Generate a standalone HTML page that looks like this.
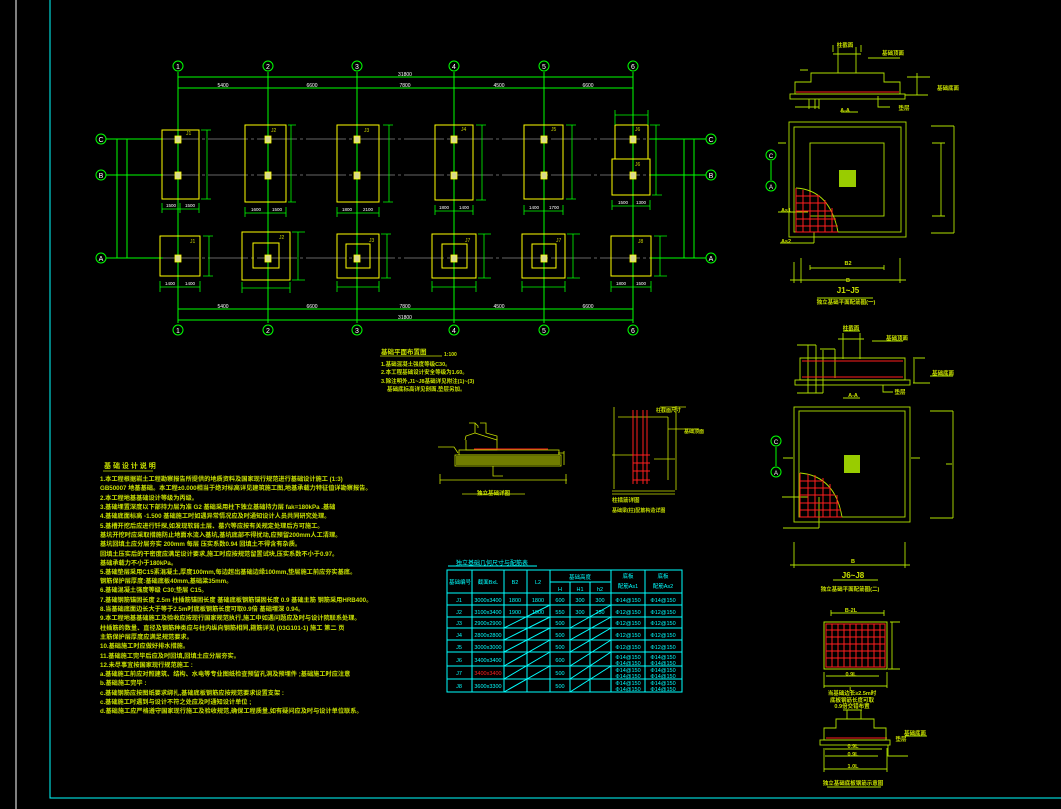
<!DOCTYPE html>
<html><head><meta charset="utf-8"><style>
html,body{margin:0;padding:0;background:#000;width:1061px;height:809px;overflow:hidden}
svg{display:block}
text{font-family:"Liberation Sans","Noto Sans CJK SC",sans-serif}
</style></head><body>
<svg width="1061" height="809" viewBox="0 0 1061 809" xmlns="http://www.w3.org/2000/svg">
<rect width="1061" height="809" fill="#000"/>
<line x1="16" y1="0" x2="16" y2="809" stroke="#fff" stroke-width="1"/>
<polyline points="50,0 50,798 1061,798" fill="none" stroke="#00ffff" stroke-width="1"/>

<g stroke="#888" stroke-width="0.8">
<line x1="110" y1="139" x2="703" y2="139" stroke-dasharray="40,3,3,3"/>
<line x1="110" y1="175" x2="703" y2="175" stroke-dasharray="40,3,3,3"/>
<line x1="110" y1="258" x2="703" y2="258" stroke-dasharray="40,3,3,3"/>
</g>
<g stroke="#00ff00" stroke-width="1" fill="none">
<line x1="178" y1="72" x2="178" y2="323"/><line x1="268" y1="72" x2="268" y2="323"/>
<line x1="357" y1="72" x2="357" y2="323"/><line x1="454" y1="72" x2="454" y2="323"/>
<line x1="544" y1="72" x2="544" y2="323"/><line x1="633" y1="72" x2="633" y2="323"/>
<line x1="178" y1="77" x2="633" y2="77"/><line x1="178" y1="88" x2="633" y2="88"/>
<line x1="178" y1="309" x2="633" y2="309"/><line x1="178" y1="320" x2="633" y2="320"/>
<line x1="106" y1="139" x2="163" y2="139"/><line x1="106" y1="175" x2="163" y2="175"/><line x1="106" y1="258" x2="163" y2="258"/>
<line x1="650" y1="139" x2="706" y2="139"/><line x1="650" y1="175" x2="706" y2="175"/><line x1="650" y1="258" x2="706" y2="258"/>
<line x1="117" y1="139" x2="117" y2="258"/><line x1="127" y1="139" x2="127" y2="258"/>
<line x1="684" y1="139" x2="684" y2="258"/><line x1="694" y1="139" x2="694" y2="258"/>
<circle cx="178" cy="66" r="5"/><circle cx="268" cy="66" r="5"/><circle cx="357" cy="66" r="5"/><circle cx="454" cy="66" r="5"/><circle cx="544" cy="66" r="5"/><circle cx="633" cy="66" r="5"/>
<circle cx="178" cy="330" r="5"/><circle cx="268" cy="330" r="5"/><circle cx="357" cy="330" r="5"/><circle cx="454" cy="330" r="5"/><circle cx="544" cy="330" r="5"/><circle cx="633" cy="330" r="5"/>
<circle cx="101" cy="139" r="5"/><circle cx="101" cy="175" r="5"/><circle cx="101" cy="258" r="5"/>
<circle cx="711" cy="139" r="5"/><circle cx="711" cy="175" r="5"/><circle cx="711" cy="258" r="5"/>
</g>
<g fill="#fff" font-size="7" text-anchor="middle">
<text x="178" y="69">1</text><text x="268" y="69">2</text><text x="357" y="69">3</text><text x="454" y="69">4</text><text x="544" y="69">5</text><text x="633" y="69">6</text>
<text x="178" y="333">1</text><text x="268" y="333">2</text><text x="357" y="333">3</text><text x="454" y="333">4</text><text x="544" y="333">5</text><text x="633" y="333">6</text>
<text x="101" y="142">C</text><text x="101" y="178">B</text><text x="101" y="261">A</text>
<text x="711" y="142">C</text><text x="711" y="178">B</text><text x="711" y="261">A</text>
</g>
<g fill="#fff" font-size="5" text-anchor="middle">
<text x="405" y="76">31800</text><text x="223" y="87">5400</text><text x="312" y="87">6600</text><text x="405" y="87">7800</text><text x="499" y="87">4500</text><text x="588" y="87">6600</text>
<text x="405" y="319">31800</text><text x="223" y="308">5400</text><text x="312" y="308">6600</text><text x="405" y="308">7800</text><text x="499" y="308">4500</text><text x="588" y="308">6600</text>
</g>

<g stroke="#ffff00" stroke-width="1" fill="none">
<rect x="162" y="130" width="37" height="69"/><rect x="245" y="125" width="41" height="77"/>
<rect x="337" y="125" width="42" height="77"/><rect x="435" y="125" width="38" height="75"/>
<rect x="524" y="125" width="39" height="74"/><rect x="615" y="125" width="33" height="34"/>
<rect x="612" y="159" width="38" height="36"/>
<rect x="160" y="236" width="40" height="40"/>
<rect x="242" y="232" width="48" height="48"/><rect x="253" y="243" width="26" height="25"/>
<rect x="337" y="234" width="42" height="44"/><rect x="346" y="244" width="24" height="24"/>
<rect x="432" y="234" width="44" height="44"/><rect x="442" y="244" width="25" height="24"/>
<rect x="522" y="234" width="43" height="44"/><rect x="532" y="244" width="24" height="24"/>
<rect x="611" y="236" width="40" height="40"/>
</g>
<g fill="#d8d890" stroke="#ffff00" stroke-width="0.8">
<rect x="175" y="136" width="6" height="7"/><rect x="175" y="172" width="6" height="7"/><rect x="175" y="255" width="6" height="7"/>
<rect x="265" y="136" width="6" height="7"/><rect x="265" y="172" width="6" height="7"/><rect x="265" y="255" width="6" height="7"/>
<rect x="354" y="136" width="6" height="7"/><rect x="354" y="172" width="6" height="7"/><rect x="354" y="255" width="6" height="7"/>
<rect x="451" y="136" width="6" height="7"/><rect x="451" y="172" width="6" height="7"/><rect x="451" y="255" width="6" height="7"/>
<rect x="541" y="136" width="6" height="7"/><rect x="541" y="172" width="6" height="7"/><rect x="541" y="255" width="6" height="7"/>
<rect x="630" y="136" width="6" height="7"/><rect x="630" y="172" width="6" height="7"/><rect x="630" y="255" width="6" height="7"/>
</g>
<g stroke="#00ff00" stroke-width="0.8" fill="none">
<path d="M162,209 H199 M162,203 V213 M180,203 V213 M199,203 V213 M207,130 V199 M201,130 H211 M201,199 H211"/>
<path d="M245,213 H286 M245,207 V217 M268,207 V217 M286,207 V217 M291,125 V202 M288,125 H296 M288,202 H296"/>
<path d="M337,213 H379 M337,207 V217 M357,207 V217 M379,207 V217 M389,125 V202 M383,125 H393 M383,202 H393"/>
<path d="M435,211 H473 M435,205 V215 M454,205 V215 M473,205 V215 M482,125 V200 M476,125 H486 M476,200 H486"/>
<path d="M524,211 H563 M524,205 V215 M544,205 V215 M563,205 V215 M572,125 V199 M566,125 H576 M566,199 H576"/>
<path d="M615,115 H648 M615,110 V125 M648,110 V125 M656,125 V195 M650,125 H660 M652,195 H662 M612,206 H650 M612,200 V210 M650,200 V210"/>
<path d="M160,287 H200 M160,281 V292 M200,281 V292 M209,236 V276 M203,236 H213 M203,276 H213"/>
<path d="M242,288 H290 M242,282 V293 M290,282 V293 M298,232 V280 M292,232 H305 M292,280 H305"/>
<path d="M337,287 H379 M337,281 V292 M379,281 V292 M387,234 V278 M381,234 H391 M381,278 H391"/>
<path d="M432,287 H476 M432,281 V292 M476,281 V292 M484,234 V278 M478,234 H491 M478,278 H491"/>
<path d="M522,287 H565 M522,281 V292 M565,281 V292 M573,234 V278 M567,234 H580 M567,278 H580"/>
<path d="M611,287 H651 M611,281 V292 M651,281 V292 M660,236 V276 M654,236 H667 M654,276 H667"/>
</g>
<g fill="#fff" font-size="4.5" text-anchor="middle">
<text x="171" y="207">1500</text><text x="190" y="207">1500</text><text x="256" y="211">1600</text><text x="277" y="211">1500</text>
<text x="347" y="211">1800</text><text x="368" y="211">2100</text><text x="444" y="209">1800</text><text x="464" y="209">1400</text>
<text x="534" y="209">1400</text><text x="554" y="209">1700</text><text x="623" y="204">1500</text><text x="641" y="204">1300</text>
<text x="170" y="285">1400</text><text x="190" y="285">1400</text><text x="621" y="285">1800</text><text x="641" y="285">1500</text>
</g>
<g fill="#c8d000" font-size="5"><text x="186" y="135">J1</text><text x="271" y="132">J2</text><text x="364" y="132">J3</text><text x="461" y="131">J4</text><text x="551" y="131">J5</text><text x="635" y="131">J6</text><text x="635" y="166">J6</text><text x="190" y="243">J1</text><text x="279" y="239">J2</text><text x="369" y="242">J3</text><text x="465" y="242">J7</text><text x="556" y="242">J7</text><text x="638" y="243">J8</text></g>

<g fill="#c8e000" font-size="6.5" font-weight="bold">
<text x="381" y="354">基础平面布置图</text><text x="444" y="356" font-size="5">1:100</text>
<text x="381" y="366" font-size="5.5">1.基础混凝土强度等级C30。</text>
<text x="381" y="374" font-size="5.5">2.本工程基础设计安全等级为1.60。</text>
<text x="381" y="383" font-size="5.5">3.除注明外,J1~J8基础详见附注(1)~(3)</text>
<text x="387" y="391" font-size="5.5">基础底标高详见剖面,垫层另加。</text>
</g>
<line x1="380" y1="356" x2="442" y2="356" stroke="#c8e000" stroke-width="0.8"/>

<g fill="#c8e000" font-size="6.2" font-weight="bold">
<text x="104" y="468" font-size="7">基 础 设 计 说 明</text>
<text x="100" y="481">1.本工程根据岩土工程勘察报告所提供的地质资料及国家现行规范进行基础设计施工          (1:3)</text>
<text x="100" y="490">GB50007 地基基础。本工程±0.000相当于绝对标高详见建筑施工图,地基承载力特征值详勘察报告。</text>
<text x="100" y="500">2.本工程地基基础设计等级为丙级。</text>
<text x="100" y="509">3.基础埋置深度以下部持力层为准       G2 基础采用柱下独立基础持力层   fak=180kPa .基础</text>
<text x="100" y="518">4.基础底面标高   -1.500  基础施工时如遇异常情况应及时通知设计人员共同研究处理。</text>
<text x="100" y="528">5.基槽开挖后应进行钎探,如发现软弱土层、墓穴等应按有关规定处理后方可施工。</text>
<text x="100" y="537">基坑开挖时应采取措施防止地面水流入基坑,基坑底部不得扰动,应预留200mm人工清理。</text>
<text x="100" y="546">基坑回填土应分层夯实    200mm  每层  压实系数0.94   回填土不得含有杂质。</text>
<text x="100" y="556">回填土压实后的干密度应满足设计要求,施工时应按规范留置试块,压实系数不小于0.97。</text>
<text x="100" y="565">基础承载力不小于180kPa。</text>
<text x="100" y="574">5.基础垫层采用C15素混凝土,厚度100mm,每边超出基础边缘100mm,垫层施工前应夯实基底。</text>
<text x="100" y="583">钢筋保护层厚度:基础底板40mm,基础梁35mm。</text>
<text x="100" y="592">6.基础混凝土强度等级     C30;垫层 C15。</text>
<text x="100" y="602">7.基础钢筋锚固长度    2.5m 柱插筋锚固长度    基础底板钢筋锚固长度     0.9 基础主筋     钢筋采用HRB400。</text>
<text x="100" y="611">8.当基础底面边长大于等于2.5m时底板钢筋长度可取0.9倍        基础埋深 0.94。</text>
<text x="100" y="620">9.本工程地基基础施工及验收应按现行国家规范执行,施工中如遇问题应及时与设计院联系处理。</text>
<text x="100" y="630">柱插筋的数量、直径及钢筋种类应与柱内纵向钢筋相同,箍筋详见       (03G101-1)  施工   第二  页</text>
<text x="100" y="639">主筋保护层厚度应满足规范要求。</text>
<text x="100" y="648">10.基础施工时应做好排水措施。</text>
<text x="100" y="658">11.基础施工完毕后应及时回填,回填土应分层夯实。</text>
<text x="100" y="667">12.未尽事宜按国家现行规范施工      :</text>
<text x="100" y="676">a.基础施工前应对照建筑、结构、水电等专业图纸检查预留孔洞及预埋件         ;基础施工时应注意</text>
<text x="100" y="685">b.基础施工完毕          :</text>
<text x="100" y="695">c.基础钢筋应按图纸要求绑扎,基础底板钢筋应按规范要求设置支架          :</text>
<text x="100" y="704">c.基础施工时遇到与设计不符之处应及时通知设计单位          ;</text>
<text x="100" y="713">d.基础施工应严格遵守国家现行施工及验收规范,确保工程质量,如有疑问应及时与设计单位联系。</text>
</g>
<line x1="103" y1="471" x2="153" y2="471" stroke="#c8e000" stroke-width="0.8"/>

<g stroke="#c8e000" stroke-width="0.8" fill="none">
<path d="M469,423 H475 V433 L466,436 L465,440 M475,423 L478,426 V428 M480,423 H486 V433 L497,436 L497,440"/>
<path d="M466,440 V450 H497 V440 L475,433"/>
<rect x="455" y="455" width="106" height="11"/>
<rect x="459" y="450" width="100" height="5"/>
<path d="M438,447 H454 L458,453 M440,480 H567 M440,474 V484 M566,474 V484 M493,466 V476 H503"/>
<path d="M558,453 H564 M564,451 V465"/>
<path d="M462,494 H525"/>
<path d="M614,407 V489 M618,417 H668 M668,417 V480 M612,455 H634 M654,459 H675 M612,491 H675 M612,494 H675 M676,406 V490 M668,429 H699 M660,407 H686"/>
</g>
<g stroke="#ff1e1e" stroke-width="1" fill="none">
<line x1="474" y1="449" x2="548" y2="449"/>
<path d="M633,410 V484 M637,410 V484 M643,410 V484 M647,410 V484 M633,455 H650 M633,463 H650 M633,471 H650 M633,480 H650"/>
</g>
<g fill="#a0b000" opacity="0.7"><rect x="456" y="456" width="104" height="9"/></g>
<g fill="#c8e000" font-size="5.5" font-weight="bold">
<text x="477" y="495">独立基础详图</text><text x="612" y="502">柱插筋详图</text><text x="612" y="512" font-size="5">基础梁(柱)配筋构造详图</text>
<text x="656" y="412" font-size="5">柱截面尺寸</text><text x="684" y="433" font-size="5">基础顶面</text>
</g>

<g stroke="#00ffff" stroke-width="1" fill="none">
<line x1="448" y1="566" x2="537" y2="566"/>
<rect x="447" y="570" width="235" height="122"/>
<path d="M472,570 V692 M504,570 V692 M527,570 V692 M550,570 V692 M611,570 V692 M645,570 V692 M570,582 V692 M590,582 V692 M550,582 H611"/>
<path d="M447,593 H682 M447,605 H682 M447,617 H682 M447,628 H682 M447,640 H682 M447,652 H682 M447,666 H682 M447,679 H682"/>
<path d="M504,628 L550,605 M504,640 L550,617 M504,652 L550,628 M504,666 L550,640 M504,679 L550,652 M504,692 L550,666"/>
<path d="M570,628 L611,605 M570,640 L611,617 M570,652 L611,628 M570,666 L611,640 M570,679 L611,652 M570,692 L611,666"/>
</g>
<g fill="#00ffff" font-size="5.5" text-anchor="middle">
<text x="492" y="565" text-anchor="middle" font-size="6">独立基础几何尺寸与配筋表</text>
<text x="460" y="584">基础编号</text><text x="488" y="584">截面BxL</text><text x="515" y="584">B2</text><text x="538" y="584">L2</text>
<text x="580" y="579">基础高度</text><text x="560" y="591">H</text><text x="580" y="591">H1</text><text x="600" y="591">h2</text>
<text x="628" y="578">底板</text><text x="628" y="588">配筋As1</text><text x="663" y="578">底板</text><text x="663" y="588">配筋As2</text>
<text x="459" y="602">J1</text><text x="459" y="614">J2</text><text x="459" y="625">J3</text><text x="459" y="637">J4</text><text x="459" y="649">J5</text><text x="459" y="662">J6</text><text x="459" y="675">J7</text><text x="459" y="688">J8</text>
<text x="488" y="602">3000x3400</text><text x="488" y="614">3100x3400</text><text x="488" y="625">2900x2900</text><text x="488" y="637">2800x2800</text><text x="488" y="649">3000x3000</text><text x="488" y="662">3400x3400</text><text x="488" y="675" fill="#ff2020">3400x3400</text><text x="488" y="688">3600x3300</text>
<text x="515" y="602">1800</text><text x="538" y="602">1800</text><text x="515" y="614">1900</text><text x="538" y="614">1900</text>
<text x="560" y="602">600</text><text x="580" y="602">300</text><text x="600" y="602">300</text>
<text x="560" y="614">550</text><text x="580" y="614">300</text><text x="600" y="614">250</text>
<text x="560" y="625">500</text><text x="560" y="637">500</text><text x="560" y="649">500</text><text x="560" y="662">600</text><text x="560" y="675">500</text><text x="560" y="688">500</text>
<text x="628" y="602">Φ14@150</text><text x="628" y="614">Φ12@150</text><text x="628" y="625">Φ12@150</text><text x="628" y="637">Φ12@150</text><text x="628" y="649">Φ12@150</text>
<text x="663" y="602">Φ14@150</text><text x="663" y="614">Φ12@150</text><text x="663" y="625">Φ12@150</text><text x="663" y="637">Φ12@150</text><text x="663" y="649">Φ12@150</text>
<text x="628" y="659">Φ14@150</text><text x="628" y="665">Φ14@150</text><text x="628" y="672">Φ14@150</text><text x="628" y="678">Φ14@150</text><text x="628" y="685">Φ14@150</text><text x="628" y="691">Φ14@150</text>
<text x="663" y="659">Φ14@150</text><text x="663" y="665">Φ14@150</text><text x="663" y="672">Φ14@150</text><text x="663" y="678">Φ14@150</text><text x="663" y="685">Φ14@150</text><text x="663" y="691">Φ14@150</text>
</g>

<g stroke="#b0e000" stroke-width="0.9" fill="none">
<path d="M838,47 V73 M856,47 V73 M833,54 H861 M833,45 V52 M861,45 V52"/>
<path d="M811,73 H884 V82 H900 V94 H795 V82 H811 Z"/>
<rect x="790" y="94" width="115" height="5"/>
<path d="M809,99 V109 M815,99 V109 M819,99 V109 M878,96 V107 H890 M907,77 H930 M917,73 V95 M905,95 H928 M868,58 H900 M800,70 H808 M795,107 H819"/>
<path d="M841,112 H858"/>
<rect x="789" y="122" width="117" height="115"/><rect x="794" y="127" width="107" height="105"/><rect x="810" y="143" width="74" height="73"/>
<path d="M931,126 H954 M931,233 H954 M954,126 V233 M932,143 H945 M932,216 H945 M941,143 V216 M778,143 H786 M778,212 H808 M780,243 H814 M814,232 V243"/>
<path d="M794,262 V283 M801,258 V283 M900,258 V283 M790,280 H906 M810,265 V270 M884,265 V270 M810,268 H884 M817,298 H873"/>
<path d="M796,188 Q830,190 838,232"/>
</g>
<rect x="839" y="170" width="17" height="17" fill="#99cc00"/>
<g stroke="#ff1e1e" stroke-width="1" fill="none">
<line x1="796" y1="92" x2="899" y2="92"/>
<path d="M796,188 V232 H838 M796,196 H820 M796,203 H827 M796,211 H832 M796,219 H836 M796,226 H838 M803,190 V232 M810,192 V232 M818,195 V232 M825,200 V232 M832,208 V232"/>
</g>
<g stroke="#00ff00" fill="none"><circle cx="771" cy="155" r="5"/><circle cx="771" cy="186" r="5"/><line x1="771" y1="161" x2="771" y2="180"/></g>
<g fill="#fff" font-size="6" text-anchor="middle"><text x="771" y="158">C</text><text x="771" y="189">A</text></g>
<g fill="#c8e000" font-size="5.5" text-anchor="middle" font-weight="bold">
<text x="845" y="47">柱截面</text><text x="893" y="55">基础顶面</text><text x="845" y="112">A-A</text><text x="904" y="110">垫层</text>
<text x="848" y="265">B2</text><text x="848" y="282">B</text><text x="848" y="293" font-size="8">J1~J5</text><text x="846" y="304">独立基础平面配筋图(一)</text>
<text x="786" y="212">As1</text><text x="786" y="243">As2</text><text x="948" y="90">基础底面</text>
</g>

<g stroke="#b0e000" stroke-width="0.9" fill="none">
<path d="M843,333 V359 M860,333 V359 M843,331 H860 M838,339 H864"/>
<path d="M800,358 H905 V380 H800 Z"/>
<rect x="795" y="380" width="115" height="5"/>
<path d="M808,345 V393 M816,345 V393 M823,350 V393 M797,345 H816 M820,349 H835 M835,349 V378 M883,385 V392 H893 M872,341 H903 M914,359 V383 M913,358 H925 M913,383 H930 M930,376 H953 M797,393 H823"/>
<path d="M843,398 H860"/>
<rect x="794" y="407" width="116" height="115"/><rect x="799" y="411" width="106" height="106"/>
<path d="M930,411 H953 M930,518 H953 M953,411 V518 M946,464 H952 M783,458 H793 M911,458 H920 M782,497 H808 M783,528 H819 M819,497 V528"/>
<path d="M794,542 V568 M905,542 V568 M790,565 H910 M833,580 H878"/>
<path d="M800,473 Q835,476 842,517"/>
</g>
<rect x="844" y="455" width="16" height="18" fill="#99cc00"/>
<g stroke="#ff1e1e" stroke-width="1" fill="none">
<line x1="802" y1="361" x2="903" y2="361"/><line x1="802" y1="377" x2="903" y2="377"/>
<path d="M800,473 V517 H842 M800,481 H822 M800,488 H830 M800,495 H835 M800,503 H839 M800,510 H841 M808,474 V517 M815,475 V517 M823,478 V517 M830,484 V517 M837,495 V517"/>
</g>
<g stroke="#00ff00" fill="none"><circle cx="776" cy="441" r="5"/><circle cx="776" cy="472" r="5"/><line x1="776" y1="447" x2="776" y2="466"/></g>
<g fill="#fff" font-size="6" text-anchor="middle"><text x="776" y="444">C</text><text x="776" y="475">A</text></g>
<g fill="#c8e000" font-size="5.5" text-anchor="middle" font-weight="bold">
<text x="851" y="330">柱截面</text><text x="897" y="340">基础顶面</text><text x="853" y="397">A-A</text><text x="900" y="394">垫层</text>
<text x="853" y="563">B</text><text x="853" y="578" font-size="8">J6~J8</text><text x="850" y="591">独立基础平面配筋图(二)</text><text x="943" y="375">基础底面</text>
</g>

<rect x="824" y="622" width="63" height="47" fill="none" stroke="#b0e000" stroke-width="1"/>
<g stroke="#ff1e1e" stroke-width="1" fill="none">
<rect x="826" y="624" width="59" height="43"/>
<path d="M832,624 V667 M838,624 V667 M844,624 V667 M850,624 V667 M856,624 V667 M862,624 V667 M868,624 V667 M874,624 V667 M880,624 V667 M826,630 H885 M826,637 H885 M826,644 H885 M826,651 H885 M826,658 H885"/>
<line x1="826" y1="738" x2="887" y2="738"/>
</g>
<g stroke="#b0e000" stroke-width="0.9" fill="none">
<path d="M831,613 H884 M831,610 V616 M884,610 V616 M892,622 V669 M890,622 H900 M888,669 H900"/>
<path d="M824,672 V688 M887,672 V688 M826,676 H879 M824,686 H887"/>
<path d="M843,710 H862 M847,710 V719 M861,710 V719 M836,719 H874 V728 H886 V740 H824 V728 H836 Z"/>
<rect x="820" y="740" width="70" height="5"/>
<path d="M825,749 H882 M825,756 H878 M824,769 H887 M824,748 V772 M887,748 V772 M888,745 V756 H908 M905,736 H927"/>
<path d="M827,787 H881"/>
</g>
<g fill="#c8e000" font-size="5.5" text-anchor="middle" font-weight="bold">
<text x="851" y="612">B-2L</text><text x="851" y="676">0.9L</text><text x="851" y="691">L</text>
<text x="852" y="695">当基础边长≥2.5m时</text><text x="852" y="702">底板钢筋长度可取</text><text x="852" y="708">0.9倍交错布置</text>
<text x="853" y="748">0.9L</text><text x="853" y="756">0.9L</text><text x="853" y="768">1.0L</text>
<text x="853" y="785">独立基础底板钢筋示意图</text><text x="915" y="735">基础底面</text><text x="901" y="741">垫层</text>
</g>
</svg>
</body></html>
